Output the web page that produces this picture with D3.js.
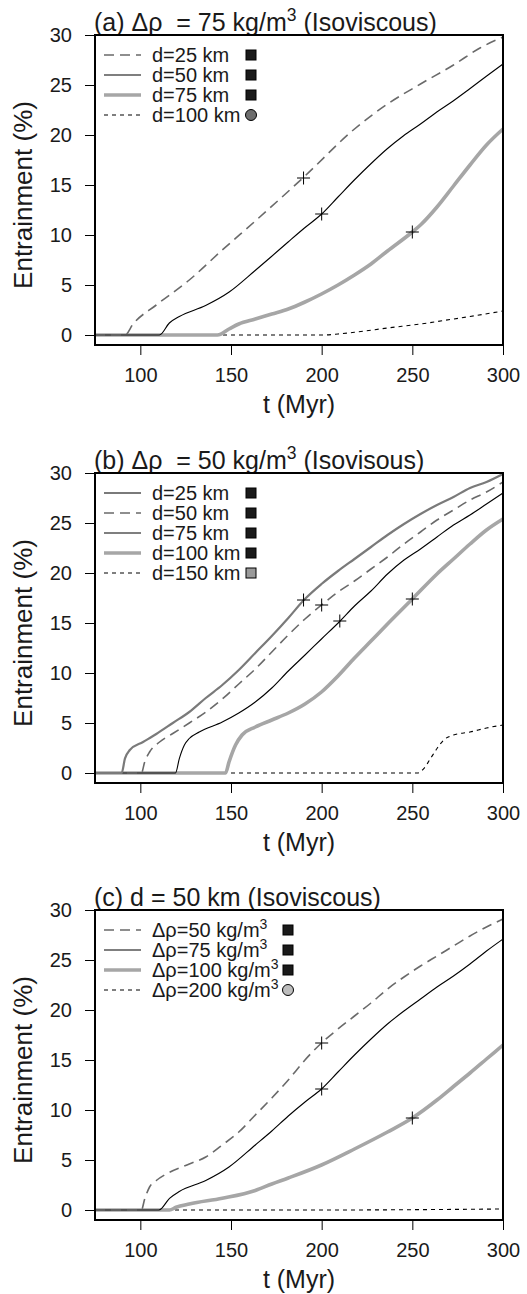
<!DOCTYPE html>
<meta charset="utf-8">
<html>
<head>
    <script src="https://d3js.org/d3.v7.min.js"></script>
    <style>
        body { margin: 0; background: white; }
        text { font-family: "Liberation Sans", Arial, sans-serif; fill: #1a1a1a; white-space: pre; }
    </style>
</head>
<body>
<script>
    // panel (a): drho = 75, d = 25, 50, 75, 100 km
    const a25t = [75, 91.5, 96, 108.8, 127, 145.2, 163.4, 190.2, 218.1, 236.3, 254.5, 272.7, 287.3, 300];
    const a25v = [0, 0, 1.1, 3.0, 5.5, 8.5, 11.4, 15.8, 20.6, 23.1, 25.1, 27.0, 28.7, 29.8];
    const a50t = [75, 110.5, 116, 121.5, 136, 149, 163, 172, 181.5, 190.5, 200, 209, 218, 227, 236, 245, 254.5, 263.5, 272.5, 281.5, 291, 300];
    const a50v = [0, 0, 1.2, 1.85, 2.95, 4.3, 6.4, 7.8, 9.3, 10.7, 12.1, 13.8, 15.5, 17.1, 18.6, 19.9, 21.1, 22.3, 23.4, 24.6, 25.9, 27.1];
    const a75t = [75, 142.5, 148.9, 154.3, 163.4, 172.5, 181.6, 190.8, 199.9, 209, 218.1, 227.2, 236.3, 250, 254.5, 263.6, 272.7, 281.8, 290.9, 300];
    const a75v = [0, 0, 0.6, 1.1, 1.6, 2.1, 2.6, 3.3, 4.1, 5.0, 6.0, 7.1, 8.4, 10.3, 11.0, 12.8, 14.9, 17.0, 19.0, 20.6];
    const a100t = [75, 199.9, 209, 218.1, 236.3, 254.5, 272.7, 281.8, 300];
    const a100v = [0, 0, 0.1, 0.27, 0.7, 1.1, 1.6, 1.85, 2.4];

    // panel (b): drho = 50, d = 25, 50, 75, 100, 150 km
    const b25t = [75, 89.7, 91.5, 94.2, 101.5, 108.8, 117.9, 127, 136.1, 145.2, 154.3, 163.4, 172.5, 181.6, 190.2, 199.9, 209, 218.1, 227.2, 236.3, 245.4, 254.5, 263.6, 272.7, 281.8, 290.9, 300];
    const b25v = [0, 0, 1.44, 2.3, 3.1, 3.9, 5.0, 6.1, 7.5, 8.8, 10.3, 12.0, 13.7, 15.5, 17.3, 18.9, 20.2, 21.4, 22.6, 23.8, 24.9, 25.9, 26.8, 27.6, 28.5, 29.1, 29.9];
    const b50t = [75, 100.6, 102.4, 105.1, 110.6, 117.9, 127, 136.1, 145.2, 154.3, 163.4, 172.5, 181.6, 190.8, 199.9, 209, 218.1, 227.2, 236.3, 245.4, 254.5, 263.6, 272.7, 281.8, 290.9, 300];
    const b50v = [0, 0, 1.1, 2.1, 3.1, 3.95, 5.0, 6.1, 7.4, 8.9, 10.4, 12.1, 13.8, 15.4, 16.8, 18.1, 19.2, 20.4, 21.6, 22.9, 24.1, 25.3, 26.3, 27.3, 28.1, 29.1];
    const b75t = [75, 119.4, 121.5, 124.3, 127, 132.5, 145.2, 154.3, 163.4, 172.5, 181.6, 190.8, 199.9, 210.2, 218.1, 227.2, 236.3, 245.4, 254.5, 263.6, 272.7, 281.8, 290.9, 300];
    const b75v = [0, 0, 1.44, 2.8, 3.45, 4.1, 5.1, 6.0, 7.1, 8.5, 10.2, 11.8, 13.4, 15.2, 16.7, 18.2, 19.9, 21.3, 22.4, 23.6, 24.8, 25.8, 26.9, 28.0];
    const b100t = [75, 147, 148.9, 152.5, 156.1, 163.4, 172.5, 181.6, 190.8, 199.9, 209, 218.1, 227.2, 236.3, 250, 263.6, 272.7, 281.8, 290.9, 300];
    const b100v = [0, 0, 1.1, 2.8, 3.8, 4.6, 5.3, 6.0, 6.9, 8.1, 9.7, 11.5, 13.2, 14.9, 17.4, 19.9, 21.4, 22.9, 24.3, 25.4];
    const b150t = [75, 252.7, 256.3, 260, 263.6, 267.3, 272.7, 281.8, 290.9, 300];
    const b150v = [0, 0, 0.44, 1.44, 2.45, 3.3, 3.8, 4.1, 4.5, 4.8];

    // panel (c): d = 50 km, drho = 50, 75, 100, 200
    const c50t = [75, 100.6, 102.4, 105.1, 108.8, 114.3, 127, 136.1, 145.2, 154.3, 163.4, 172.5, 181.6, 190.8, 199.9, 209, 218.1, 227.2, 236.3, 245.4, 254.5, 263.6, 272.7, 281.8, 290.9, 300];
    const c50v = [0, 0, 1.1, 2.3, 2.95, 3.6, 4.6, 5.3, 6.5, 7.8, 9.5, 11.2, 13.0, 15.0, 16.7, 18.1, 19.4, 20.7, 22.1, 23.3, 24.4, 25.4, 26.4, 27.4, 28.3, 29.1];
    const c75t = [75, 110.2, 116.1, 121.5, 136.1, 148.9, 163.4, 172.5, 181.6, 190.8, 199.9, 209, 218.1, 227.2, 236.3, 245.4, 254.5, 263.6, 272.7, 281.8, 290.9, 300];
    const c75v = [0, 0, 1.17, 1.85, 2.95, 4.3, 6.5, 7.9, 9.4, 10.8, 12.1, 13.8, 15.5, 17.1, 18.6, 19.9, 21.1, 22.3, 23.4, 24.6, 25.9, 27.1];
    const c100t = [75, 116.1, 119.7, 127, 145.2, 163.4, 172.5, 181.6, 199.9, 218.1, 236.3, 250, 263.6, 272.7, 281.8, 290.9, 300];
    const c100v = [0, 0, 0.27, 0.6, 1.17, 1.95, 2.6, 3.2, 4.5, 6.1, 7.8, 9.2, 11.0, 12.35, 13.7, 15.1, 16.5];
    const c200t = [75, 200, 300];
    const c200v = [0, 0, 0.1];

    // crosses on the curves
    const aCross = [[190, 15.7], [200, 12.1], [250, 10.3]];
    const bCross = [[190, 17.3], [200, 16.8], [210, 15.2], [250, 17.4]];
    const cCross = [[200, 16.7], [200, 12.1], [250, 9.2]];

    const xTicks = [100, 150, 200, 250, 300];
    const yTicks = [0, 5, 10, 15, 20, 25, 30];

    const width = 527, height = 1294;
    const svg = d3.select('body').append('svg')
        .attr('width', width)
        .attr('height', height);

    // line styles
    const S = {
        gdash: { stroke: '#6a6a6a', w: 1.6, dash: '10,6' },
        black: { stroke: '#000', w: 1.1, dash: null },
        thick: { stroke: '#a6a6a6', w: 3.6, dash: null },
        short: { stroke: '#000', w: 1.1, dash: '4,4' },
        gsolid: { stroke: '#7a7a7a', w: 2.2, dash: null }
    };

    const panels = [
        {
            top: 35, title: ['(a) Δρ  = 75 kg/m', '3', ' (Isoviscous)'],
            series: [
                { t: a25t, v: a25v, s: S.gdash, label: 'd=25 km', mk: 'sq', fill: '#1a1a1a' },
                { t: a50t, v: a50v, s: S.black, label: 'd=50 km', mk: 'sq', fill: '#1a1a1a' },
                { t: a75t, v: a75v, s: S.thick, label: 'd=75 km', mk: 'sq', fill: '#1a1a1a' },
                { t: a100t, v: a100v, s: S.short, label: 'd=100 km', mk: 'ci', fill: '#6e6e6e' }
            ],
            cross: aCross, mx: 251
        },
        {
            top: 473, title: ['(b) Δρ  = 50 kg/m', '3', ' (Isovisous)'],
            series: [
                { t: b25t, v: b25v, s: S.gsolid, label: 'd=25 km', mk: 'sq', fill: '#1a1a1a' },
                { t: b50t, v: b50v, s: S.gdash, label: 'd=50 km', mk: 'sq', fill: '#1a1a1a' },
                { t: b75t, v: b75v, s: S.black, label: 'd=75 km', mk: 'sq', fill: '#1a1a1a' },
                { t: b100t, v: b100v, s: S.thick, label: 'd=100 km', mk: 'sq', fill: '#1a1a1a' },
                { t: b150t, v: b150v, s: S.short, label: 'd=150 km', mk: 'sq', fill: '#9a9a9a' }
            ],
            cross: bCross, mx: 251
        },
        {
            top: 910, title: ['(c) d = 50 km (Isoviscous)'],
            series: [
                { t: c50t, v: c50v, s: S.gdash, label: ['Δρ=50 kg/m', '3'], mk: 'sq', fill: '#1a1a1a' },
                { t: c75t, v: c75v, s: S.black, label: ['Δρ=75 kg/m', '3'], mk: 'sq', fill: '#1a1a1a' },
                { t: c100t, v: c100v, s: S.thick, label: ['Δρ=100 kg/m', '3'], mk: 'sq', fill: '#1a1a1a' },
                { t: c200t, v: c200v, s: S.short, label: ['Δρ=200 kg/m', '3'], mk: 'ci', fill: '#bdbdbd' }
            ],
            cross: cCross, mx: 288
        }
    ];

    const left = 95, right = 503;
    const x = d3.scaleLinear().domain([75, 300]).range([left, right]);

    // text with a superscript "3"
    function addText(sel, parts, size) {
        parts.forEach((p, i) => {
            const ts = sel.append('tspan').text(p);
            if (i === 1) ts.attr('dy', -size * 0.4).style('font-size', (size * 0.7) + 'px');
            if (i === 2) ts.attr('dy', size * 0.4);
        });
    }

    panels.forEach(p => {
        const y = d3.scaleLinear().domain([-1, 30]).range([p.top + 310, p.top]);
        const g = svg.append('g');

        const tt = g.append('text')
            .attr('x', left - 1)
            .attr('y', p.top - 4)
            .style('font-size', '25px');
        addText(tt, p.title, 25);

        const xa = g.append('g')
            .attr('transform', `translate(0,${p.top + 310})`)
            .call(d3.axisBottom(x).tickValues(xTicks).tickSize(10).tickPadding(13));
        const ya = g.append('g')
            .attr('transform', `translate(${left},0)`)
            .call(d3.axisLeft(y).tickValues(yTicks).tickSize(10).tickPadding(13));
        [xa, ya].forEach(a => {
            a.select('.domain').remove();
            a.selectAll('line').attr('stroke', '#000').attr('stroke-width', 1);
            a.selectAll('text')
                .style('font-size', '20px')
                .style('font-family', '"Liberation Sans", Arial, sans-serif')
                .attr('fill', '#1a1a1a');
        });

        g.append('text')
            .attr('x', (left + right) / 2)
            .attr('y', p.top + 310 + 68)
            .attr('text-anchor', 'middle')
            .style('font-size', '25px')
            .text('t (Myr)');

        g.append('text')
            .attr('transform', `translate(32,${p.top + 160}) rotate(-90)`)
            .attr('text-anchor', 'middle')
            .style('font-size', '26px')
            .text('Entrainment (%)');

        const line = d3.line()
            .x(d => x(d[0]))
            .y(d => y(d[1]))
            .curve(d3.curveMonotoneX);

        p.series.slice().reverse().forEach(s => {
            g.append('path')
                .datum(s.t.map((t, i) => [t, s.v[i]]))
                .attr('d', line)
                .attr('fill', 'none')
                .attr('stroke', s.s.stroke)
                .attr('stroke-width', s.s.w)
                .attr('stroke-dasharray', s.s.dash);
        });

        p.cross.forEach(c => {
            const cx = x(c[0]), cy = y(c[1]);
            g.append('path')
                .attr('d', `M${cx - 6.5},${cy}H${cx + 6.5}M${cx},${cy - 6.5}V${cy + 6.5}`)
                .attr('stroke', '#000')
                .attr('stroke-width', 1);
        });

        g.append('rect')
            .attr('x', left)
            .attr('y', p.top)
            .attr('width', right - left)
            .attr('height', 310)
            .attr('fill', 'none')
            .attr('stroke', '#000')
            .attr('stroke-width', 2);

        // legend
        p.series.forEach((s, i) => {
            const ly = p.top + 20 + i * 20;
            g.append('line')
                .attr('x1', 104).attr('x2', 141)
                .attr('y1', ly).attr('y2', ly)
                .attr('stroke', s.s.stroke)
                .attr('stroke-width', s.s.w)
                .attr('stroke-dasharray', s.s.dash);
            const lt = g.append('text')
                .attr('x', 152)
                .attr('y', ly + 7)
                .style('font-size', '20px');
            addText(lt, Array.isArray(s.label) ? s.label : [s.label], 20);
            if (s.mk === 'sq') {
                g.append('rect')
                    .attr('x', p.mx - 5).attr('y', ly - 5)
                    .attr('width', 10).attr('height', 10)
                    .attr('fill', s.fill)
                    .attr('stroke', '#000').attr('stroke-width', 1);
            } else {
                g.append('circle')
                    .attr('cx', p.mx).attr('cy', ly)
                    .attr('r', 5.5)
                    .attr('fill', s.fill)
                    .attr('stroke', '#000').attr('stroke-width', 1);
            }
        });
    });
</script>
</body>
</html>
